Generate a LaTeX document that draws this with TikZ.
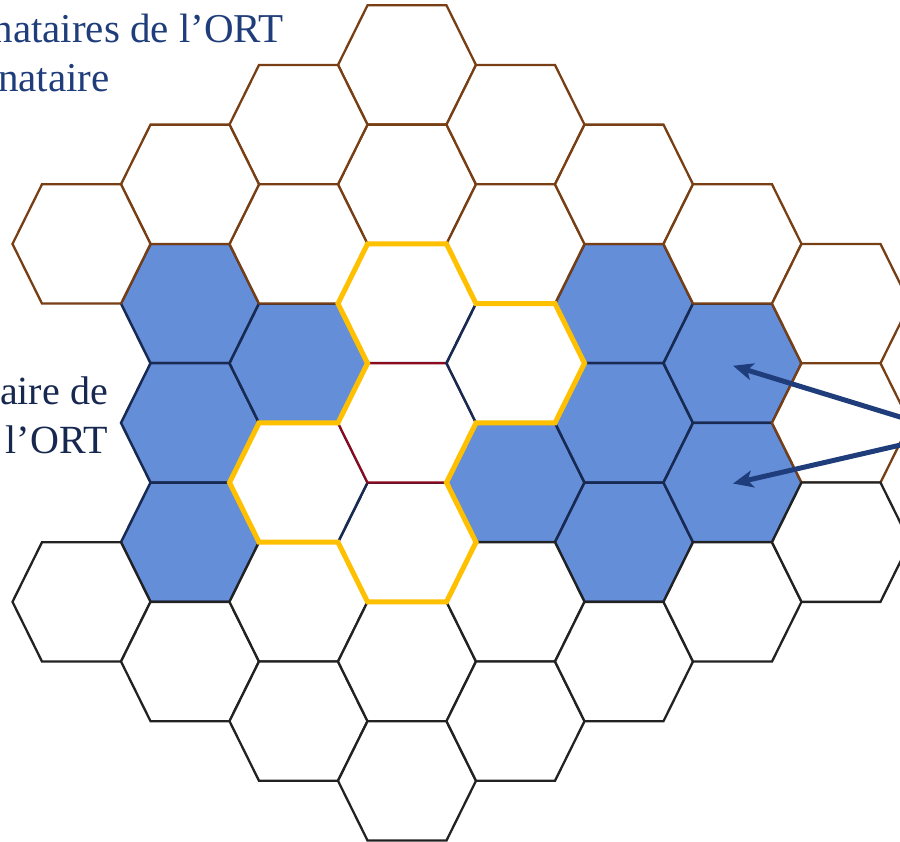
\documentclass[tikz,border=0pt]{standalone}
\usepackage{fontspec}
\setmainfont{Liberation Serif}
\usetikzlibrary{calc,arrows.meta}
\definecolor{cellblue}{RGB}{101,142,217}
\definecolor{cellnavy}{RGB}{24,42,82}
\definecolor{cellbrown}{RGB}{120,62,20}
\definecolor{cellblack}{RGB}{34,34,34}
\definecolor{loopyellow}{RGB}{255,192,0}
\definecolor{cellred}{RGB}{140,10,30}
\definecolor{arrowblue}{RGB}{31,61,122}
\definecolor{textblue}{RGB}{31,61,122}
\definecolor{textnavy}{RGB}{23,40,80}
\newcommand{\hexcellat}[3]{%
  \begin{scope}[shift={({407+108.5*(#1)},{65+59.65*(#2)})}]
    \coordinate (hex#1_#2) at (0,0);
    \draw[#3] (-69,0) -- (-39.5,-59.65) -- (39.5,-59.65) -- (69,0) -- (39.5,59.65) -- (-39.5,59.65) -- cycle;
  \end{scope}}
\begin{document}
\begin{tikzpicture}[x=1pt,y=-1pt,
  browncell/.style={draw=cellbrown,line width=2.3pt,fill=white},
  blackcell/.style={draw=cellblack,line width=2.3pt,fill=white},
  bluecell/.style={draw=cellnavy,line width=2.5pt,fill=cellblue},
  whitecell/.style={draw=cellnavy,line width=2.5pt,fill=white},
  redcell/.style={draw=cellred,line width=2.2pt,fill=white},
  yellowloop/.style={draw=loopyellow,line width=5pt},
  ptr/.style={draw=arrowblue,line width=5pt,-{Stealth[length=20pt,width=17pt,inset=5pt]}},
  toptext/.style={text=textblue,inner sep=0pt,font=\fontsize{41}{49}\selectfont},
  midtext/.style={text=textnavy,inner sep=0pt,font=\fontsize{40}{48}\selectfont}]
\useasboundingbox (0,0) rectangle (900,842);
\clip (0,0) rectangle (900,842);
% blue cells
\foreach \c/\k in {-2/4,-2/6,-2/8,-1/5,1/7,2/4,2/6,2/8,3/5,3/7}{\hexcellat{\c}{\k}{bluecell}}
% white cells inside the yellow loop
\foreach \c/\k in {0/4,0/8,-1/7}{\hexcellat{\c}{\k}{whitecell}}
\hexcellat{0}{6}{redcell}
\hexcellat{1}{5}{whitecell}
% brown cells
\foreach \c/\k in {0/0,0/2,-1/1,-1/3,-2/2,-3/3,1/1,1/3,2/2,3/3,4/4,4/6}{\hexcellat{\c}{\k}{browncell}}
% black cells
\foreach \c/\k in {-3/9,-2/10,-1/9,-1/11,0/10,0/12,1/9,1/11,2/10,3/9,4/8}{\hexcellat{\c}{\k}{blackcell}}
% yellow loop
\draw[yellowloop] ($(hex0_4)+(-39.5,-59.65)$) -- ($(hex0_4)+(39.5,-59.65)$) -- ($(hex0_4)+(69,0)$)
  -- ($(hex1_5)+(39.5,-59.65)$) -- ($(hex1_5)+(69,0)$) -- ($(hex1_5)+(39.5,59.65)$) -- ($(hex1_5)+(-39.5,59.65)$)
  -- ($(hex0_6)+(39.5,59.65)$) -- ($(hex0_8)+(69,0)$) -- ($(hex0_8)+(39.5,59.65)$) -- ($(hex0_8)+(-39.5,59.65)$)
  -- ($(hex0_8)+(-69,0)$) -- ($(hex-1_7)+(-39.5,59.65)$) -- ($(hex-1_7)+(-69,0)$) -- ($(hex-1_7)+(-39.5,-59.65)$)
  -- ($(hex-1_7)+(39.5,-59.65)$) -- ($(hex0_6)+(-39.5,-59.65)$) -- ($(hex0_4)+(-69,0)$) -- cycle;
% arrows
\coordinate (srcA) at (905,418.5);
\coordinate (srcB) at (905,444);
\draw[ptr] (srcA) -- ($(hex3_5)+(0.5,2.5)$);
\draw[ptr] (srcB) -- ($(hex3_7)+(0.5,1)$);
% texts
\node[toptext,anchor=base east] (topline) at (284,43) {nataires de l’ORT};
\node[toptext,anchor=base west] (secondline) at (-2,92) {nataire};
\node[midtext,anchor=base east] (midlineA) at (108,405) {aire de};
\node[midtext,anchor=base east] (midlineB) at (108,453) {l’ORT};
\end{tikzpicture}
\end{document}
